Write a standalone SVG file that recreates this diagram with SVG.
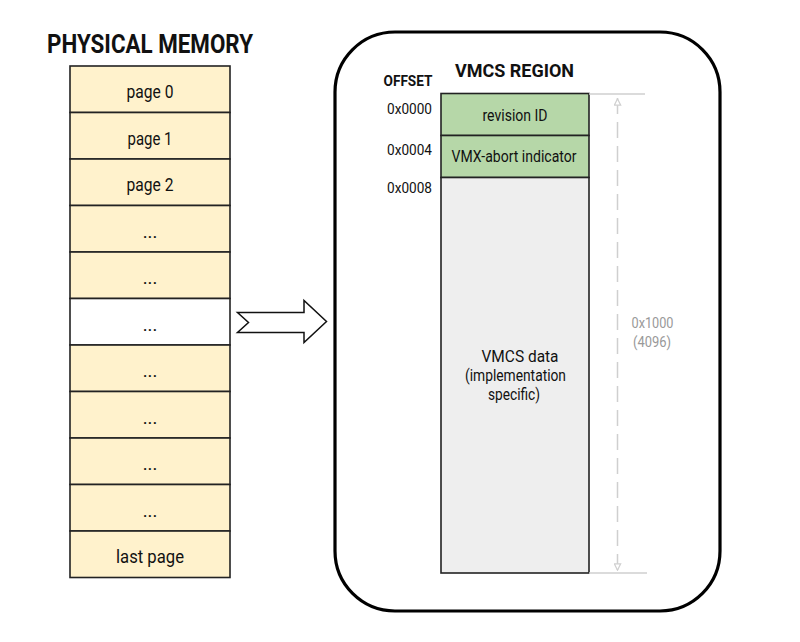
<svg xmlns="http://www.w3.org/2000/svg" width="800" height="642" viewBox="0 0 800 642">
<style>
text{font-family:Roboto,"Liberation Sans",sans-serif;fill:#111}
.page{fill:#fff2cc;stroke:#222;stroke-width:1.6}
.pl{font-size:18.5px;text-anchor:middle}
.title{font-weight:bold;text-anchor:middle}
.vm{stroke:#222;stroke-width:1.6}
.off{font-size:15.5px;text-anchor:end}
.vt{font-size:16px;text-anchor:middle}
.dim{stroke:#cfcfcf;stroke-width:1.5;fill:none}
.dimt{font-size:15px;fill:#999;text-anchor:middle}
</style>
<defs>
<marker id="ah" viewBox="0 0 10 10" refX="10" refY="5" markerWidth="8" markerHeight="8" markerUnits="userSpaceOnUse" orient="auto-start-reverse">
<path d="M1,1 L9,5 L1,9 Z" fill="#fff" stroke="#cfcfcf" stroke-width="1.5"/>
</marker>
</defs>
<text class="title" x="150" y="53" font-size="25" textLength="206" lengthAdjust="spacingAndGlyphs">PHYSICAL MEMORY</text>
<g id="physical-memory">
<g id="page0"><rect class="page" x="70" y="66" width="160" height="46.5"/><text class="pl" x="150" y="98" textLength="47" lengthAdjust="spacingAndGlyphs">page 0</text></g>
<g id="page1"><rect class="page" x="70" y="112.5" width="160" height="46.5"/><text class="pl" x="150" y="144.5" textLength="45" lengthAdjust="spacingAndGlyphs">page 1</text></g>
<g id="page2"><rect class="page" x="70" y="159" width="160" height="46.5"/><text class="pl" x="150" y="191" textLength="47" lengthAdjust="spacingAndGlyphs">page 2</text></g>
<g id="page3"><rect class="page" x="70" y="205.5" width="160" height="46.5"/><text class="pl" x="150" y="237.5">...</text></g>
<g id="page4"><rect class="page" x="70" y="252" width="160" height="46.5"/><text class="pl" x="150" y="284">...</text></g>
<g id="page5"><rect class="page" x="70" y="298.5" width="160" height="46.5" style="fill:#fff"/><text class="pl" x="150" y="330.5">...</text></g>
<g id="page6"><rect class="page" x="70" y="345" width="160" height="46.5"/><text class="pl" x="150" y="377">...</text></g>
<g id="page7"><rect class="page" x="70" y="391.5" width="160" height="46.5"/><text class="pl" x="150" y="423.5">...</text></g>
<g id="page8"><rect class="page" x="70" y="438" width="160" height="46.5"/><text class="pl" x="150" y="470">...</text></g>
<g id="page9"><rect class="page" x="70" y="484.5" width="160" height="46.5"/><text class="pl" x="150" y="516.5">...</text></g>
<g id="last-page"><rect class="page" x="70" y="531" width="160" height="46.5"/><text class="pl" x="150" y="562.5" textLength="68" lengthAdjust="spacingAndGlyphs">last page</text></g>
</g>
<g id="connectors">
<path d="M237.5,312.5 L304,312.5 L304,300.5 L326.5,321.5 L304,342.5 L304,332.5 L237.5,332.5 L248.5,322.5 Z" fill="#fff" stroke="#111" stroke-width="1.5" stroke-linejoin="miter"/>
</g>
<g id="vmcs-region">
<rect x="335" y="32" width="385" height="579" rx="60" ry="60" fill="#fff" stroke="#000" stroke-width="3.2"/>
<text class="title" x="514.5" y="77" font-size="19" textLength="119" lengthAdjust="spacingAndGlyphs">VMCS REGION</text>
<text class="title" x="408" y="85.5" font-size="14.5" textLength="49" lengthAdjust="spacingAndGlyphs">OFFSET</text>
<g id="revision-id"><rect class="vm" x="441" y="93.5" width="148" height="42" fill="#b6d7a8"/><text class="vt" x="515" y="120.5" textLength="65" lengthAdjust="spacingAndGlyphs">revision ID</text><text class="off" x="432" y="114" textLength="45" lengthAdjust="spacingAndGlyphs">0x0000</text></g>
<g id="vmx-abort"><rect class="vm" x="441" y="135.5" width="148" height="42" fill="#b6d7a8"/><text class="vt" x="514" y="161.5" textLength="125" lengthAdjust="spacingAndGlyphs">VMX-abort indicator</text><text class="off" x="432" y="155" textLength="45" lengthAdjust="spacingAndGlyphs">0x0004</text></g>
<g id="vmcs-data"><rect class="vm" x="441" y="177.5" width="148" height="395.5" fill="#eeeeee"/>
<text class="vt" x="520" y="361.5" textLength="77" lengthAdjust="spacingAndGlyphs">VMCS data</text>
<text class="vt" x="515.5" y="381" textLength="101" lengthAdjust="spacingAndGlyphs">(implementation</text>
<text class="vt" x="514" y="400" textLength="52" lengthAdjust="spacingAndGlyphs">specific)</text>
<text class="off" x="432" y="193" textLength="45" lengthAdjust="spacingAndGlyphs">0x0008</text></g>
<g id="size-dimension">
<line class="dim" x1="589" y1="94" x2="645" y2="94"/>
<line class="dim" x1="589" y1="573" x2="647" y2="573"/>
<line class="dim" x1="617.5" y1="98" x2="617.5" y2="571" stroke-dasharray="16 8" marker-start="url(#ah)" marker-end="url(#ah)"/>
<text class="dimt" x="652.5" y="328" textLength="42" lengthAdjust="spacingAndGlyphs">0x1000</text>
<text class="dimt" x="652" y="347" textLength="38" lengthAdjust="spacingAndGlyphs">(4096)</text>
</g>
</g>
</svg>
